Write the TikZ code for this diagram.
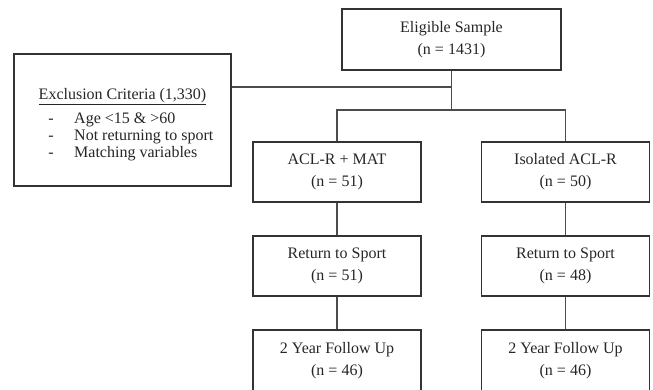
\documentclass[tikz,border=0pt]{standalone}
\usepackage{fontspec}
\setmainfont{Liberation Serif}
\begin{document}
\begin{tikzpicture}[x=1pt,y=-1pt,
  box/.style={draw=black!80, line width=1.2pt, minimum width=168pt, minimum height=60pt, inner sep=0pt,
    align=center, text=black!85, font=\fontsize{16}{22}\selectfont},
  link/.style={draw=black!70, line width=1.2pt},
  txt/.style={text=black!85, font=\fontsize{16}{19}\selectfont, inner sep=0pt}]
\clip (0,0) rectangle (653,389);
\useasboundingbox (0,0) rectangle (653,389);
% boxes
\node[box, minimum width=219pt, minimum height=61pt] (elig) at (451.5,39.5) {Eligible Sample\\(n = 1431)};
\node[box, minimum width=217pt, minimum height=132pt] (excl) at (122.5,120) {};
\node[box] (acl) at (337,172) {ACL-R + MAT\\(n = 51)};
\node[box] (iso) at (565.5,172) {Isolated ACL-R\\(n = 50)};
\node[box] (ret1) at (337,266) {Return to Sport\\(n = 51)};
\node[box] (ret2) at (565.5,266) {Return to Sport\\(n = 48)};
\node[box, minimum height=62pt] (fu1) at (337,361) {2 Year Follow Up\\(n = 46)};
\node[box, minimum height=62pt] (fu2) at (565.5,361) {2 Year Follow Up\\(n = 46)};
% exclusion text
\node[txt, anchor=base] (exh) at (122.5,99) {\underline{Exclusion Criteria (1,330)}};
\node[txt, anchor=base] (d1) at (51,123) {-};
\node[txt, anchor=base] (d2) at (51,140) {-};
\node[txt, anchor=base] (d3) at (51,157) {-};
\node[txt, anchor=base west] (e1) at (74,123) {Age <15 \& >60};
\node[txt, anchor=base west] (e2) at (74,140) {Not returning to sport};
\node[txt, anchor=base west] (e3) at (74,157) {Matching variables};
% connectors
\coordinate (j1) at (451.5,87);
\coordinate (j2) at (451.5,110);
\coordinate (bl) at (337,110);
\coordinate (br) at (565.5,110);
\draw[link] (elig.south) -- (j2);
\draw[link] (excl.east |- j1) -- (j1);
\draw[link] (acl.north) -- (bl) -- (br) -- (iso.north);
\draw[link] (acl.south) -- (ret1.north);
\draw[link] (iso.south) -- (ret2.north);
\draw[link] (ret1.south) -- (fu1.north);
\draw[link] (ret2.south) -- (fu2.north);
\end{tikzpicture}
\end{document}
